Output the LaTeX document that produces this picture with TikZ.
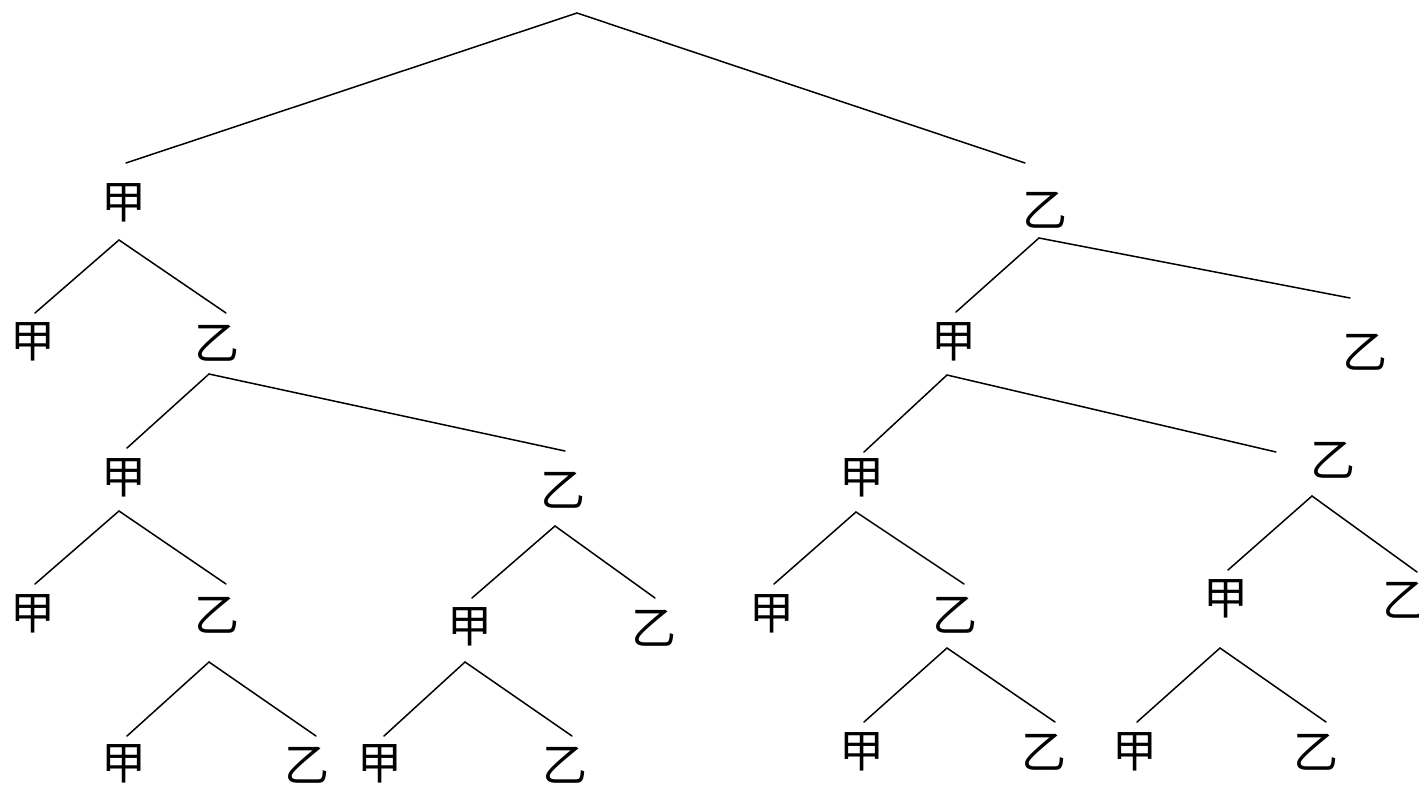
\documentclass[tikz,border=0pt]{standalone}
\usepackage{fontspec}
\newfontfamily\cjk{Noto Sans CJK SC}
\begin{document}
\begin{tikzpicture}[x=1pt,y=-1pt,
  lab/.style={font=\cjk\fontsize{45}{45}\selectfont, inner sep=0pt, anchor=center},
  edge/.style={line width=1.5pt, line cap=round}]
\useasboundingbox (0,0) rectangle (1419,787);
% labels
\node[lab] (A)    at (124,203) {甲};
\node[lab] (B)    at (1045,210) {乙};
\node[lab] (AA)   at (33,342) {甲};
\node[lab] (AB)   at (217,343) {乙};
\node[lab] (ABA)  at (124,478) {甲};
\node[lab] (ABB)  at (563,490) {乙};
\node[lab] (ABAA) at (33,614) {甲};
\node[lab] (ABAB) at (217,615) {乙};
\node[lab] (ABABA) at (124,764) {甲};
\node[lab] (ABABB) at (307,765) {乙};
\node[lab] (ABBA) at (470,627) {甲};
\node[lab] (ABBB) at (654,628) {乙};
\node[lab] (ABBAA) at (380,764) {甲};
\node[lab] (ABBAB) at (565,765) {乙};
\node[lab] (BA)   at (954,342) {甲};
\node[lab] (BB)   at (1365,352) {乙};
\node[lab] (BAA)  at (862,478) {甲};
\node[lab] (BAB)  at (1333,460) {乙};
\node[lab] (BAAA) at (772,614) {甲};
\node[lab] (BAAB) at (955,615) {乙};
\node[lab] (BAABA) at (862,752) {甲};
\node[lab] (BAABB) at (1044,752) {乙};
\node[lab] (BABA) at (1226,599) {甲};
\node[lab] (BABB) at (1405,600) {乙};
\node[lab] (BABAA) at (1135,752) {甲};
\node[lab] (BABAB) at (1316,752) {乙};
% connector points
\coordinate (r)   at (577,13);
\coordinate (rA)  at (126,163);
\coordinate (rB)  at (1025,163);
\coordinate (a)   at (119,240);
\coordinate (aA)  at (35,313);
\coordinate (aB)  at (226,313);
\coordinate (ab)  at (209,374);
\coordinate (abA) at (127,448);
\coordinate (abB) at (565,451);
\coordinate (aba)  at (119,511);
\coordinate (abaA) at (35,584);
\coordinate (abaB) at (226,584);
\coordinate (abab)  at (209,662);
\coordinate (ababA) at (127,736);
\coordinate (ababB) at (316,736);
\coordinate (abb)  at (555,526);
\coordinate (abbA) at (472,598);
\coordinate (abbB) at (655,598);
\coordinate (abba)  at (465,662);
\coordinate (abbaA) at (384,736);
\coordinate (abbaB) at (572,736);
\coordinate (b)   at (1039,238);
\coordinate (bA)  at (956,312);
\coordinate (bB)  at (1350,298);
\coordinate (ba)  at (947,375);
\coordinate (baA) at (864,452);
\coordinate (baB) at (1276,452);
\coordinate (baa)  at (856,512);
\coordinate (baaA) at (774,584);
\coordinate (baaB) at (964,584);
\coordinate (baab)  at (947,648);
\coordinate (baabA) at (864,722);
\coordinate (baabB) at (1055,722);
\coordinate (bab)  at (1312,496);
\coordinate (babA) at (1228,570);
\coordinate (babB) at (1417,572);
\coordinate (baba)  at (1220,648);
\coordinate (babaA) at (1137,722);
\coordinate (babaB) at (1326,722);
% connectors
\draw[edge] (rA) -- (r) -- (rB);
\draw[edge] (aA) -- (a) -- (aB);
\draw[edge] (abA) -- (ab) -- (abB);
\draw[edge] (abaA) -- (aba) -- (abaB);
\draw[edge] (ababA) -- (abab) -- (ababB);
\draw[edge] (abbA) -- (abb) -- (abbB);
\draw[edge] (abbaA) -- (abba) -- (abbaB);
\draw[edge] (bA) -- (b) -- (bB);
\draw[edge] (baA) -- (ba) -- (baB);
\draw[edge] (baaA) -- (baa) -- (baaB);
\draw[edge] (baabA) -- (baab) -- (baabB);
\draw[edge] (babA) -- (bab) -- (babB);
\draw[edge] (babaA) -- (baba) -- (babaB);
\end{tikzpicture}
\end{document}
